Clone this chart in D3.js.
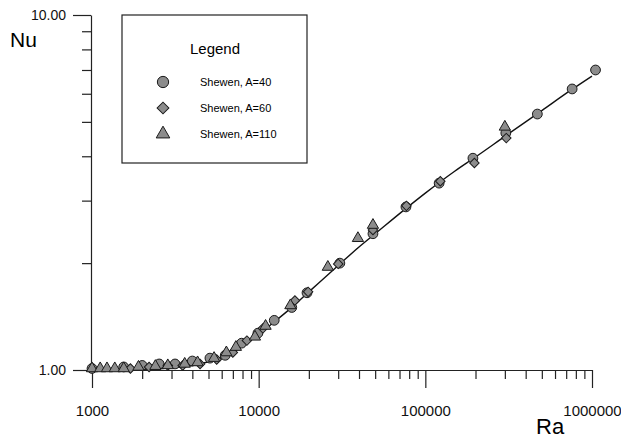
<!DOCTYPE html>
<html>
<head>
<meta charset="utf-8">
<script src="https://cdn.jsdelivr.net/npm/d3@7"></script>
<style>
  body { margin: 0; background: #fff; }
  svg { font-family: Arial, "Liberation Sans", sans-serif; }
</style>
</head>
<body>
<svg id="chart" width="621" height="441"></svg>
<script>
// correlation curve
const curveRa = [1000, 1500, 2000, 3000, 4000, 5000, 6000, 7000, 8000, 10000, 12000, 15000, 20000,
  30000, 40000, 50000, 75000, 100000, 150000, 200000, 300000, 500000, 750000, 1000000];
const curveNu = [1.0, 1.0, 1.005, 1.015, 1.03, 1.055, 1.085, 1.12, 1.17, 1.26, 1.35, 1.47, 1.66,
  1.97, 2.22, 2.42, 2.83, 3.15, 3.63, 3.98, 4.55, 5.38, 6.15, 6.73];

// Shewen, A=40 (circles)
const ra40 = [1000, 1550, 2000, 2530, 3150, 4000, 5100, 6300, 7900, 9900, 12400, 15800, 19500,
  30700, 48500, 76500, 121000, 193000, 304000, 470000, 760000, 1050000];
const nu40 = [1.01, 1.02, 1.03, 1.04, 1.04, 1.06, 1.08, 1.10, 1.19, 1.27, 1.38, 1.50, 1.65,
  2.00, 2.42, 2.88, 3.36, 3.95, 4.65, 5.26, 6.19, 7.00];

// Shewen, A=60 (diamonds)
const ra60 = [1700, 2200, 2850, 3500, 4450, 5600, 7000, 8500, 10600, 16500, 19800, 30000, 48500,
  77000, 123000, 197000, 306000];
const nu60 = [1.01, 1.02, 1.03, 1.03, 1.04, 1.07, 1.12, 1.21, 1.31, 1.57, 1.66, 1.99, 2.48,
  2.90, 3.40, 3.83, 4.50];

// Shewen, A=110 (triangles)
const ra110 = [1000, 1120, 1230, 1370, 1550, 1900, 2400, 2850, 3600, 4300, 5400, 6400, 7300,
  9500, 11000, 15500, 26000, 39400, 48500, 300000];
const nu110 = [1.01, 1.01, 1.01, 1.01, 1.01, 1.02, 1.025, 1.03, 1.04, 1.05, 1.08, 1.12, 1.16,
  1.24, 1.33, 1.52, 1.95, 2.35, 2.56, 4.84];

const xMajor = [1000, 10000, 100000, 1000000];
const yMajor = [1, 10];
const legendLabels = ["Shewen, A=40", "Shewen, A=60", "Shewen, A=110"];

const svg = d3.select("#chart");

const x = d3.scaleLog().domain([1000, 1000000]).range([92, 592]);
const y = d3.scaleLog().domain([1, 10]).range([370, 15]);

// minor ticks
const xMinor = [];
for (let p = 1000; p < 1000000; p *= 10)
  for (let k = 2; k <= 9; k++) xMinor.push(p * k);
const yMinor = d3.range(2, 10);

// x axis
svg.append("g")
  .attr("transform", "translate(0,370)")
  .call(d3.axisBottom(x).tickValues(xMinor).tickSize(9).tickFormat(""))
  .call(g => g.select(".domain").remove());

const xAx = svg.append("g")
  .attr("transform", "translate(0,370)")
  .call(d3.axisBottom(x).tickValues(xMajor).tickSize(18).tickSizeOuter(0).tickPadding(17)
    .tickFormat(d3.format("d")));
xAx.selectAll("text").attr("font-size", 15).attr("fill", "#111");

// y axis
svg.append("g")
  .attr("transform", "translate(91,0)")
  .call(d3.axisLeft(y).tickValues(yMinor).tickSize(9).tickFormat(""))
  .call(g => g.select(".domain").remove());

const yAx = svg.append("g")
  .attr("transform", "translate(91,0)")
  .call(d3.axisLeft(y).tickValues(yMajor).tickSize(18).tickSizeOuter(0).tickPadding(7)
    .tickFormat(d3.format(".2f")));
yAx.selectAll("text").attr("font-size", 14).attr("fill", "#111");

svg.selectAll(".domain, .tick line").attr("stroke", "#222").attr("stroke-width", 1.2);

// axis titles
svg.append("text").attr("x", 10).attr("y", 47).attr("font-size", 21).text("Nu");
svg.append("text").attr("x", 536).attr("y", 434).attr("font-size", 22).text("Ra");

// curve
const curve = curveRa.map((r, i) => [r, curveNu[i]]);
svg.append("path")
  .datum(curve)
  .attr("fill", "none")
  .attr("stroke", "#111")
  .attr("stroke-width", 1.4)
  .attr("d", d3.line().x(d => x(d[0])).y(d => y(d[1])).curve(d3.curveMonotoneX));

// data points (diamond = square turned 45 degrees)
const series = [
  { ra: ra40, nu: nu40, type: d3.symbolCircle, size: 75, rot: 0 },
  { ra: ra60, nu: nu60, type: d3.symbolSquare, size: 45, rot: 45 },
  { ra: ra110, nu: nu110, type: d3.symbolTriangle, size: 55, rot: 0 }
];

series.forEach(s => {
  svg.append("g").selectAll("path")
    .data(s.ra.map((r, i) => [r, s.nu[i]]))
    .enter()
    .append("path")
    .attr("transform", d => "translate(" + x(d[0]) + "," + y(d[1]) + ") rotate(" + s.rot + ")")
    .attr("d", d3.symbol().type(s.type).size(s.size))
    .attr("fill", "#8c8c8c")
    .attr("stroke", "#1a1a1a")
    .attr("stroke-width", 1);
});

// legend
const leg = svg.append("g");
leg.append("rect")
  .attr("x", 122).attr("y", 15).attr("width", 185).attr("height", 148)
  .attr("fill", "#fff").attr("stroke", "#222").attr("stroke-width", 1.2);
leg.append("text").attr("x", 215).attr("y", 54).attr("text-anchor", "middle")
  .attr("font-size", 15).text("Legend");

series.forEach((s, i) => {
  const cy = 82 + i * 26;
  leg.append("path")
    .attr("transform", "translate(163," + cy + ") rotate(" + s.rot + ")")
    .attr("d", d3.symbol().type(s.type).size(s.size + 25))
    .attr("fill", "#8c8c8c")
    .attr("stroke", "#1a1a1a")
    .attr("stroke-width", 1);
  leg.append("text")
    .attr("x", 200).attr("y", cy + 4)
    .attr("font-size", 11)
    .text(legendLabels[i]);
});
</script>
</body>
</html>
